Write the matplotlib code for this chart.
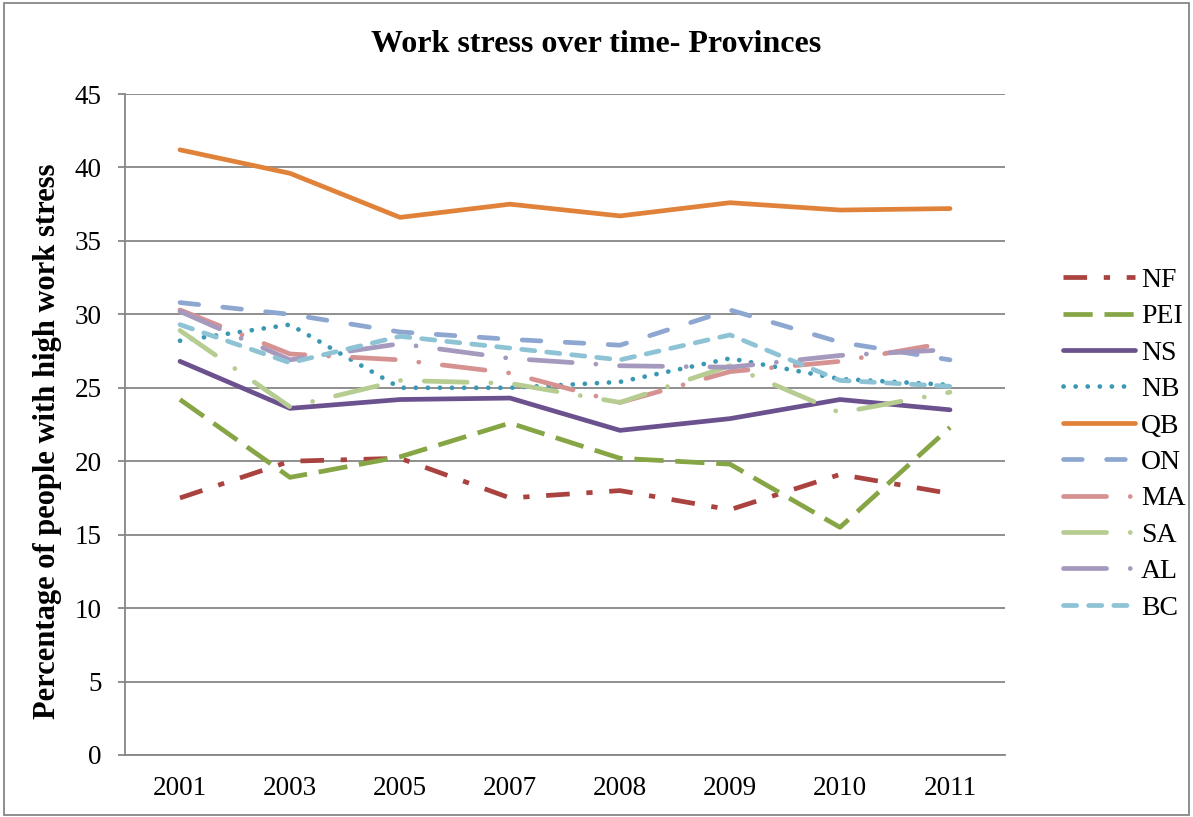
import matplotlib
matplotlib.use('Agg')
import matplotlib.pyplot as plt
from matplotlib.patches import Rectangle

plt.rcParams['font.family'] = ['Liberation Serif', 'DejaVu Serif']
plt.rcParams['lines.scale_dashes'] = False

years = ['2001', '2003', '2005', '2007', '2008', '2009', '2010', '2011']

nf = [17.5, 20.0, 20.2, 17.5, 18.0, 16.7, 19.1, 17.8]
pei = [24.2, 18.9, 20.3, 22.6, 20.2, 19.8, 15.5, 22.3]
ns = [26.8, 23.6, 24.2, 24.3, 22.1, 22.9, 24.2, 23.5]
nb = [28.2, 29.3, 25.0, 25.0, 25.4, 27.0, 25.6, 25.2]
qb = [41.2, 39.6, 36.6, 37.5, 36.7, 37.6, 37.1, 37.2]
on = [30.8, 30.0, 28.8, 28.3, 27.9, 30.3, 28.1, 26.9]
ma = [30.3, 27.3, 26.9, 26.0, 24.0, 26.1, 26.8, 28.1]
sa = [28.9, 23.7, 25.5, 25.3, 24.0, 26.5, 23.3, 24.7]
al = [30.2, 26.9, 28.0, 27.0, 26.5, 26.4, 27.2, 27.6]
bc = [29.3, 26.7, 28.5, 27.7, 26.9, 28.6, 25.5, 25.1]

# label, values, colour, dash pattern (points), cap style
series = [
    ('NF', nf, '#AA423F', (0, (17, 12, 4.5, 12)), 'butt'),
    ('PEI', pei, '#86A544', (0, (21, 8.5)), 'butt'),
    ('NS', ns, '#6B518E', None, 'round'),
    ('NB', nb, '#3A98B3', (0, (0.1, 8.6)), 'round'),
    ('QB', qb, '#E0823A', None, 'round'),
    ('ON', on, '#8EA7D1', (0, (13.5, 17.5)), 'round'),
    ('MA', ma, '#D69291', (0, (31, 17, 0.1, 17)), 'round'),
    ('SA', sa, '#B6CC91', (0, (31, 17, 0.1, 17)), 'round'),
    ('AL', al, '#A699BE', (0, (31, 17, 0.1, 17)), 'round'),
    ('BC', bc, '#8EC3D5', (0, (9.5, 8.6)), 'round'),
]

fig = plt.figure(figsize=(11.93, 8.17), dpi=100)
ax = fig.add_axes([125 / 1193, 1 - 755 / 817, 880 / 1193, (755 - 94) / 817])

x = range(len(years))
for label, vals, color, dash, cap in series:
    line, = ax.plot(x, vals, color=color, lw=3.4, label=label,
                    solid_capstyle=cap, dash_capstyle=cap, solid_joinstyle='round')
    if dash is not None:
        line.set_linestyle(dash)

ax.set_xlim(-0.5, len(years) - 0.5)
ax.set_ylim(0, 45)
ax.set_yticks(range(0, 46, 5))
ax.set_xticks(list(x))
ax.set_xticklabels(years)
ax.tick_params(axis='y', length=5, width=1.3, color='#868686', pad=12, labelsize=19.5)
ax.tick_params(axis='x', length=0, pad=15, labelsize=19.5)
ax.grid(axis='y', color='#868686', lw=1.3)
ax.set_axisbelow(True)
for side in ['top', 'right']:
    ax.spines[side].set_visible(False)
for side in ['left', 'bottom']:
    ax.spines[side].set_color('#868686')
    ax.spines[side].set_linewidth(1.3)

fig.text(0.5, 1 - 45 / 817, 'Work stress over time- Provinces', ha='center', va='center',
         fontsize=23, fontweight='bold')
fig.text(48 / 1193, 1 - 441 / 817, 'Percentage of people with high work stress', ha='center',
         va='center', rotation=90, fontsize=22, fontweight='bold')

ax.legend(loc='center left', bbox_to_anchor=(1063 / 1193, 1 - 444 / 817),
          bbox_transform=fig.transFigure, frameon=False, fontsize=20,
          borderpad=0, borderaxespad=0,
          handlelength=2.6, handletextpad=0.2, labelspacing=0.395)

fig.patches.append(Rectangle((4 / 1193, 2 / 817), 1185 / 1193, 812 / 817,
                             transform=fig.transFigure, fill=False,
                             edgecolor='#868686', lw=1.3))

fig.savefig('out.png', dpi=100)
